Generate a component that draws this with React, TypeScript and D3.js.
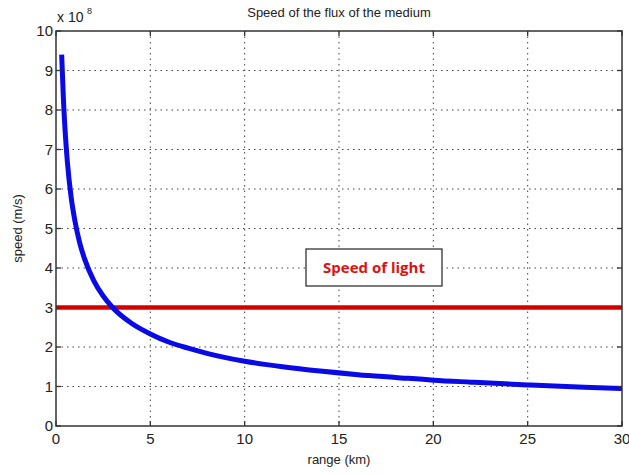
import React from 'react';
import * as d3 from 'd3';

// values (speed in units of 1e8 m/s)
const rangeKm = [0.3, 0.4, 0.5, 0.6, 0.8, 1, 1.25, 1.5, 2, 2.5, 3, 4, 5, 6, 7, 8, 10, 12, 14, 16, 18, 20, 22, 25, 28, 30];
const speed = [9.4, 8.2, 7.35, 6.7, 5.8, 5.2, 4.65, 4.25, 3.68, 3.29, 3.0, 2.6, 2.33, 2.12, 1.97, 1.84, 1.64, 1.5, 1.39, 1.3, 1.23, 1.16, 1.11, 1.04, 0.98, 0.95];
const lightSpeed = 3;
const xTicks = [0, 5, 10, 15, 20, 25, 30];
const yTicks = [0, 1, 2, 3, 4, 5, 6, 7, 8, 9, 10];

const App = () => {
  const width = 629;
  const height = 474;
  const left = 56;
  const right = 622;
  const top = 31;
  const bottom = 426;

  const x = d3.scaleLinear().domain([0, 30]).range([left, right]);
  const y = d3.scaleLinear().domain([0, 10]).range([bottom, top]);

  const line = d3.line<number>()
    .x((d, i) => x(rangeKm[i]))
    .y((d) => y(d))
    .curve(d3.curveMonotoneX);

  const font = 'Liberation Sans, Arial, sans-serif';
  const tickLen = 5;

  return (
    <svg width={width} height={height} style={{ position: 'absolute', left: 0, top: 0 }}>
      <rect x={0} y={0} width={width} height={height} fill="#fff" />

      {/* grid */}
      {xTicks.slice(1, -1).map((t) => (
        <line key={'gx' + t} x1={x(t)} x2={x(t)} y1={top} y2={bottom}
          stroke="#444" strokeWidth={1} strokeDasharray="1.5,4" />
      ))}
      {yTicks.slice(1, -1).map((t) => (
        <line key={'gy' + t} x1={left} x2={right} y1={y(t)} y2={y(t)}
          stroke="#444" strokeWidth={1} strokeDasharray="1.5,4" />
      ))}

      {/* speed of light */}
      <line x1={left} x2={right} y1={y(lightSpeed)} y2={y(lightSpeed)} stroke="#d40000" strokeWidth={4.5} />

      {/* speed curve */}
      <path d={line(speed) || ''} fill="none" stroke="#0a0ae6" strokeWidth={5} strokeLinejoin="round" />

      {/* ticks */}
      {xTicks.map((t) => (
        <g key={'tx' + t}>
          <line x1={x(t)} x2={x(t)} y1={bottom} y2={bottom - tickLen} stroke="#333" strokeWidth={1.3} />
          <line x1={x(t)} x2={x(t)} y1={top} y2={top + tickLen} stroke="#333" strokeWidth={1.3} />
          <text x={x(t)} y={bottom + 18} textAnchor="middle" fontFamily={font} fontSize={15} fill="#222">{t}</text>
        </g>
      ))}
      {yTicks.map((t) => (
        <g key={'ty' + t}>
          <line x1={left} x2={left + tickLen} y1={y(t)} y2={y(t)} stroke="#333" strokeWidth={1.3} />
          <line x1={right} x2={right - tickLen} y1={y(t)} y2={y(t)} stroke="#333" strokeWidth={1.3} />
          <text x={left - 3} y={y(t) + 5} textAnchor="end" fontFamily={font} fontSize={15} fill="#222">{t}</text>
        </g>
      ))}

      {/* axes box */}
      <rect x={left} y={top} width={right - left} height={bottom - top} fill="none" stroke="#333" strokeWidth={1.5} />

      {/* exponent */}
      <text x={57} y={22} fontFamily={font} fontSize={14} fill="#222">x 10</text>
      <text x={87} y={14} fontFamily={font} fontSize={9} fill="#222">8</text>

      {/* title and labels */}
      <text x={(left + right) / 2} y={17} textAnchor="middle" fontFamily={font} fontSize={13} fill="#222">
        Speed of the flux of the medium
      </text>
      <text x={(left + right) / 2} y={464} textAnchor="middle" fontFamily={font} fontSize={13} fill="#222">
        range (km)
      </text>
      <text transform={`translate(22, ${(top + bottom) / 2}) rotate(-90)`} textAnchor="middle"
        fontFamily={font} fontSize={13} fill="#222">
        speed (m/s)
      </text>

      {/* annotation */}
      <rect x={306} y={249} width={136} height={37} fill="#fff" stroke="#222" strokeWidth={1.2} />
      <text x={374} y={273} textAnchor="middle" fontFamily="Open Sans, sans-serif" fontWeight="bold"
        fontSize={15} fill="#e01010">
        Speed of light
      </text>
    </svg>
  );
};

export default App;
